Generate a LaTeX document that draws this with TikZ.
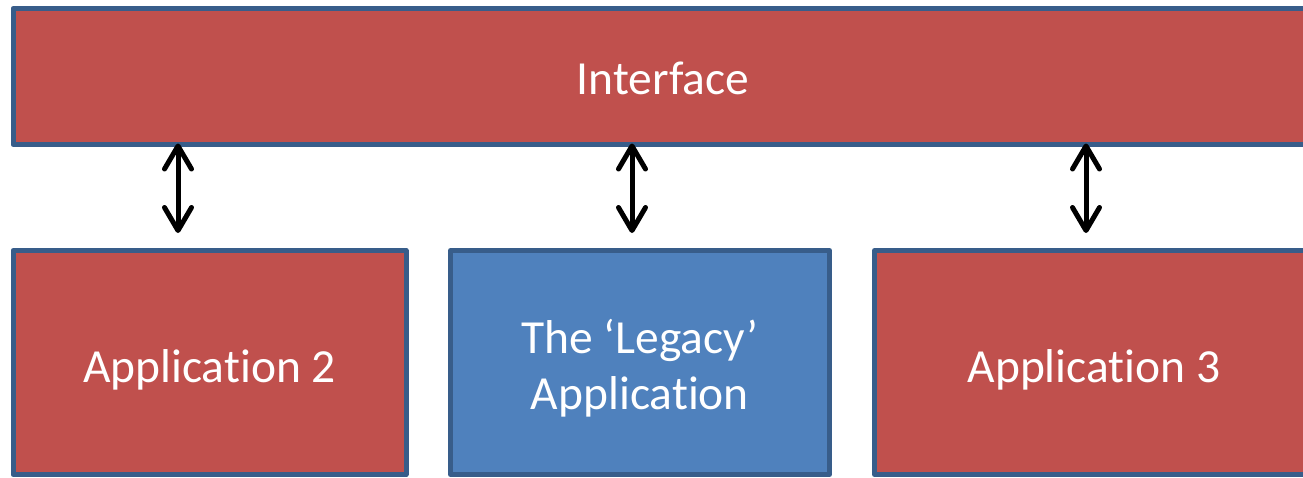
\documentclass[tikz,border=0pt]{standalone}
\usepackage{fontspec}
\setmainfont{Carlito}[Ligatures={NoCommon}]
\usetikzlibrary{arrows.meta}
\definecolor{boxred}{RGB}{192,80,77}
\definecolor{boxblue}{RGB}{79,129,189}
\definecolor{edgeblue}{RGB}{56,93,138}
\tikzset{
  box/.style={draw=edgeblue, line width=5pt, line join=round, anchor=north west,
    outer sep=0pt, inner sep=0pt},
  boxtext/.style={text=white, align=center, font=\fontsize{47.5}{56}\selectfont, inner sep=0pt},
  arr/.style={line width=5pt, draw=black,
    {Straight Barb[length=23pt,width=27pt,line cap=round,line join=round]}-{Straight Barb[length=23pt,width=27pt,line cap=round,line join=round]}}
}
\begin{document}
\begin{tikzpicture}[x=1pt,y=-1pt]
\useasboundingbox (0,0) rectangle (1303,477);
\clip (0,0) rectangle (1303,477);
\node[box, fill=boxred, minimum width=1300pt, minimum height=136pt,
  label={[boxtext, yshift=-2pt]center:Interface}] (iface) at (13,8.5) {};
\node[box, fill=boxred, minimum width=393pt, minimum height=224pt,
  label={[boxtext, yshift=-7pt]center:Application 2}] (app2) at (13,250.5) {};
\node[box, fill=boxblue, minimum width=379pt, minimum height=224pt,
  label={[boxtext, yshift=-6pt]center:The ‘Legacy’\\Application}] (legacy) at (450.5,250.5) {};
\node[box, fill=boxred, minimum width=439pt, minimum height=224pt,
  label={[boxtext, yshift=-7pt]center:Application 3}] (app3) at (874.5,250.5) {};
\coordinate (x1) at (178,0);
\coordinate (x2) at (632,0);
\coordinate (x3) at (1086,0);
\draw[arr, shorten <=-1pt, shorten >=17.5pt] (iface.south -| x1) -- (app2.north -| x1);
\draw[arr, shorten <=-1pt, shorten >=17.5pt] (iface.south -| x2) -- (legacy.north -| x2);
\draw[arr, shorten <=-1pt, shorten >=17.5pt] (iface.south -| x3) -- (app3.north -| x3);
\end{tikzpicture}
\end{document}
